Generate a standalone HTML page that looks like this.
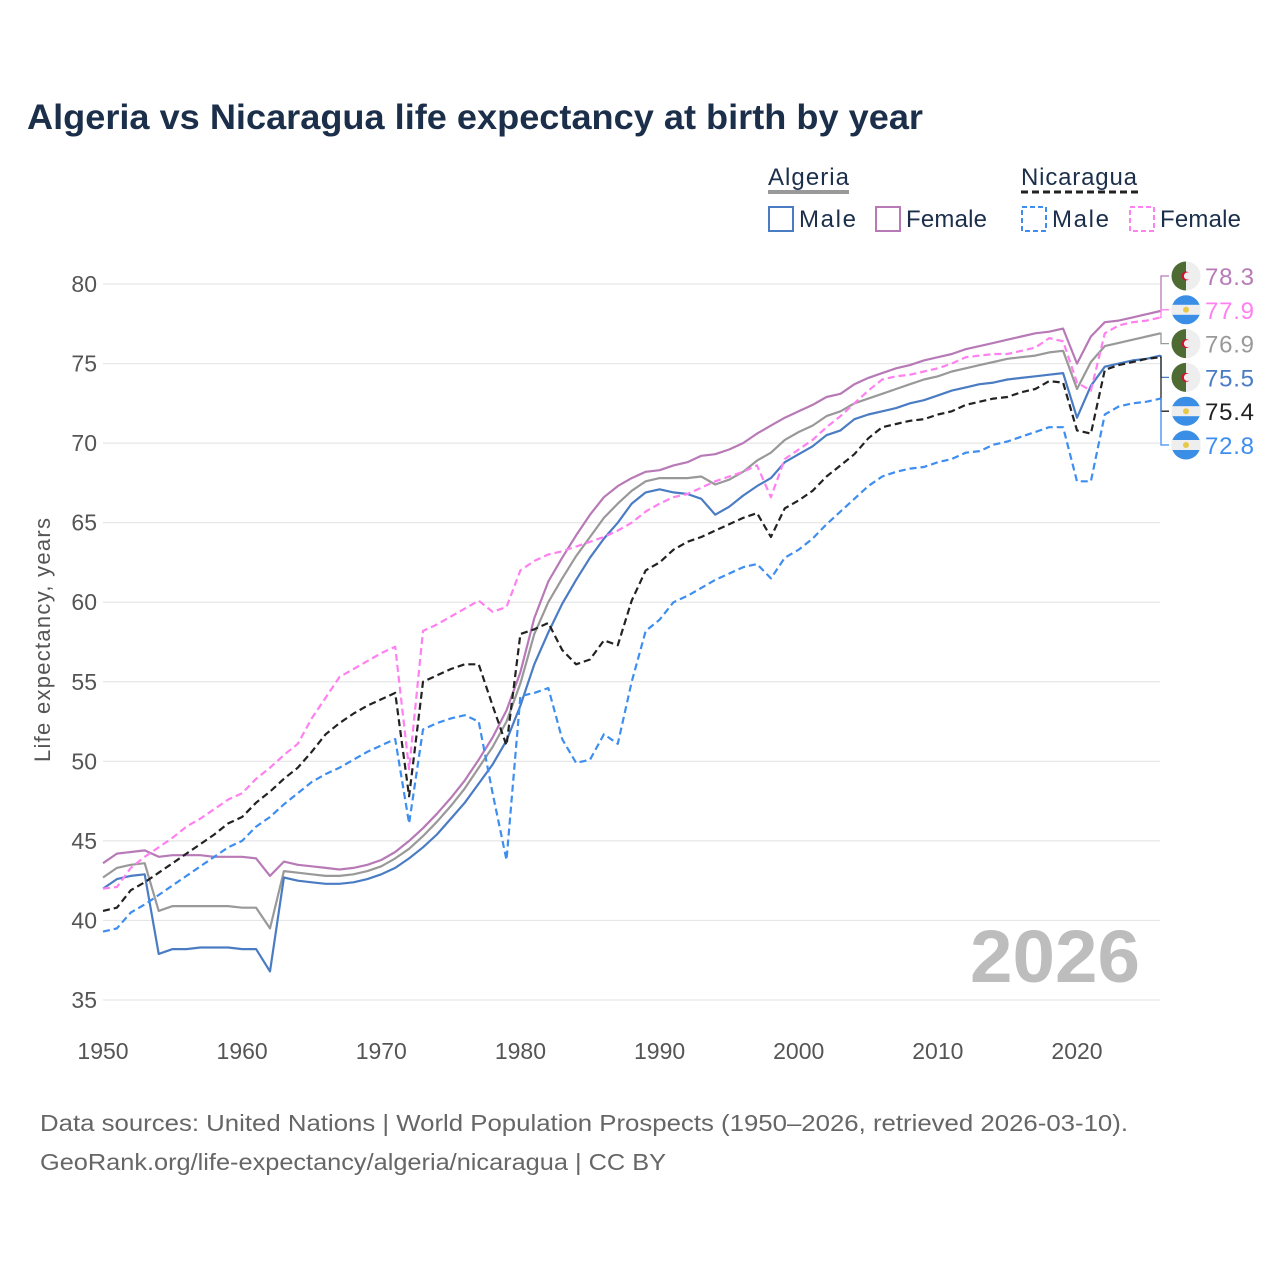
<!DOCTYPE html>
<html><head><meta charset="utf-8"><style>
body{margin:0;background:#fff;font-family:"Liberation Sans",sans-serif;}
svg text{font-family:"Liberation Sans",sans-serif;}
</style></head><body>
<svg id="chart" width="1280" height="1280" xmlns="http://www.w3.org/2000/svg">
<rect width="1280" height="1280" fill="#fff"/>
<text x="27" y="129" font-size="35" font-weight="bold" fill="#1b2f4b" textLength="896" lengthAdjust="spacingAndGlyphs">Algeria vs Nicaragua life expectancy at birth by year</text>
<g>
<text x="768" y="185" font-size="24" fill="#1b2f4b" textLength="81">Algeria</text>
<line x1="768" y1="192" x2="849" y2="192" stroke="#999" stroke-width="4"/>
<text x="1021" y="185" font-size="24" fill="#1b2f4b" textLength="116">Nicaragua</text>
<line x1="1021" y1="192" x2="1138" y2="192" stroke="#222" stroke-width="3" stroke-dasharray="7,4"/>
<g><rect x="769" y="207" width="24" height="24" fill="none" stroke="#4a7cc4" stroke-width="2"/><text x="799" y="227" font-size="24" fill="#1b2f4b" textLength="57">Male</text></g>
<g><rect x="876" y="207" width="24" height="24" fill="none" stroke="#b77ab7" stroke-width="2"/><text x="906" y="227" font-size="24" fill="#1b2f4b" textLength="81">Female</text></g>
<g><rect x="1022" y="207" width="24" height="24" fill="none" stroke="#3d8ef0" stroke-width="2" stroke-dasharray="5,3"/><text x="1052" y="227" font-size="24" fill="#1b2f4b" textLength="57">Male</text></g>
<g><rect x="1130" y="207" width="24" height="24" fill="none" stroke="#ff80f0" stroke-width="2" stroke-dasharray="5,3"/><text x="1160" y="227" font-size="24" fill="#1b2f4b" textLength="81">Female</text></g>
</g>
<g id="grid"></g>
<g id="axes"></g>
<text x="970" y="982" font-size="74" font-weight="bold" fill="#bdbdbd" textLength="170" lengthAdjust="spacingAndGlyphs">2026</text>
<text transform="translate(50,640) rotate(-90)" text-anchor="middle" font-size="22" fill="#555" textLength="244">Life expectancy, years</text>
<g id="series"></g>
<g id="labels"></g>
<text x="40" y="1131" font-size="23" fill="#666" textLength="1088" lengthAdjust="spacingAndGlyphs">Data sources: United Nations | World Population Prospects (1950–2026, retrieved 2026-03-10).</text>
<text x="40" y="1170" font-size="23" fill="#666" textLength="626" lengthAdjust="spacingAndGlyphs">GeoRank.org/life-expectancy/algeria/nicaragua | CC BY</text>
</svg>
<script>
const startYear = 1950;
const yTicks = [35,40,45,50,55,60,65,70,75,80];
const xTicks = [1950,1960,1970,1980,1990,2000,2010,2020];
const algeriaFemale = [43.6,44.2,44.3,44.4,44.0,44.1,44.1,44.1,44.0,44.0,44.0,43.9,42.8,43.7,43.5,43.4,43.3,43.2,43.3,43.5,43.8,44.3,45.0,45.8,46.7,47.7,48.8,50.1,51.5,53.2,55.6,59.0,61.3,62.8,64.2,65.5,66.6,67.3,67.8,68.2,68.3,68.6,68.8,69.2,69.3,69.6,70.0,70.6,71.1,71.6,72.0,72.4,72.9,73.1,73.7,74.1,74.4,74.7,74.9,75.2,75.4,75.6,75.9,76.1,76.3,76.5,76.7,76.9,77.0,77.2,75.0,76.7,77.6,77.7,77.9,78.1,78.3];
const algeriaTotal = [42.7,43.3,43.5,43.6,40.6,40.9,40.9,40.9,40.9,40.9,40.8,40.8,39.5,43.1,43.0,42.9,42.8,42.8,42.9,43.1,43.4,43.9,44.5,45.3,46.2,47.2,48.3,49.6,50.9,52.5,54.9,58.0,60.0,61.5,62.9,64.1,65.3,66.2,67.0,67.6,67.8,67.8,67.8,67.9,67.4,67.7,68.2,68.9,69.4,70.2,70.7,71.1,71.7,72.0,72.5,72.8,73.1,73.4,73.7,74.0,74.2,74.5,74.7,74.9,75.1,75.3,75.4,75.5,75.7,75.8,73.4,75.1,76.1,76.3,76.5,76.7,76.9];
const algeriaMale = [42.0,42.6,42.8,42.9,37.9,38.2,38.2,38.3,38.3,38.3,38.2,38.2,36.8,42.7,42.5,42.4,42.3,42.3,42.4,42.6,42.9,43.3,43.9,44.6,45.4,46.4,47.4,48.6,49.8,51.3,53.5,56.1,58.1,59.9,61.4,62.8,64.0,65.0,66.2,66.9,67.1,66.9,66.8,66.5,65.5,66.0,66.7,67.3,67.8,68.8,69.3,69.8,70.5,70.8,71.5,71.8,72.0,72.2,72.5,72.7,73.0,73.3,73.5,73.7,73.8,74.0,74.1,74.2,74.3,74.4,71.6,73.6,74.8,75.0,75.2,75.3,75.5];
const nicaraguaTotal = [40.6,40.8,41.9,42.4,43.0,43.6,44.2,44.8,45.4,46.1,46.5,47.4,48.1,48.9,49.6,50.6,51.7,52.4,53.0,53.5,53.9,54.3,47.8,55.0,55.4,55.8,56.1,56.1,53.5,51.0,58.0,58.3,58.7,57.0,56.1,56.4,57.6,57.3,60.1,62.0,62.5,63.3,63.8,64.1,64.5,64.9,65.3,65.6,64.1,65.9,66.4,67.0,67.9,68.6,69.3,70.3,71.0,71.2,71.4,71.5,71.8,72.0,72.4,72.6,72.8,72.9,73.2,73.4,73.9,73.8,70.8,70.6,74.6,74.9,75.1,75.3,75.4];
const nicaraguaMale = [39.3,39.5,40.5,41.0,41.6,42.2,42.8,43.4,44.0,44.6,45.0,45.9,46.5,47.3,48.0,48.7,49.2,49.6,50.1,50.6,51.0,51.4,46.1,52.0,52.4,52.7,52.9,52.5,48.0,43.8,54.1,54.3,54.6,51.4,49.9,50.1,51.7,51.1,55.0,58.2,58.9,60.0,60.4,60.9,61.4,61.8,62.2,62.4,61.5,62.8,63.3,64.0,64.9,65.7,66.5,67.3,67.9,68.2,68.4,68.5,68.8,69.0,69.4,69.5,69.9,70.1,70.4,70.7,71.0,71.0,67.6,67.6,71.8,72.3,72.5,72.6,72.8];
const nicaraguaFemale = [42.0,42.1,43.3,44.0,44.6,45.2,45.9,46.4,47.0,47.6,48.0,48.9,49.6,50.4,51.1,52.7,54.0,55.3,55.8,56.3,56.8,57.2,49.5,58.2,58.6,59.1,59.6,60.1,59.4,59.7,62.0,62.6,63.0,63.2,63.5,63.8,64.1,64.5,65.0,65.7,66.2,66.6,66.8,67.2,67.6,67.9,68.2,68.6,66.6,69.0,69.6,70.2,71.0,71.7,72.5,73.3,74.0,74.2,74.3,74.5,74.7,75.0,75.4,75.5,75.6,75.6,75.8,76.0,76.6,76.4,73.8,73.3,76.9,77.4,77.6,77.7,77.9];

const NS = "http://www.w3.org/2000/svg";
const X0 = 103, XPER = 974/70, Y80 = 284, YPER = 716/45, XEND = 1160;
function xs(year){return X0 + (year-1950)*XPER;}
function ys(v){return Y80 + (80-v)*YPER;}
function mk(tag, attrs, parent){const e=document.createElementNS(NS,tag);for(const k in attrs)e.setAttribute(k,attrs[k]);parent.appendChild(e);return e;}

const grid=document.getElementById('grid'), axes=document.getElementById('axes');
yTicks.forEach(t=>{
  const l=mk('line',{x1:X0,x2:XEND,y1:ys(t),y2:ys(t),stroke:'#e6e6e6','stroke-width':1.2},grid);
  
  
  const tx=mk('text',{x:97,y:ys(t)+8,'text-anchor':'end','font-size':23,fill:'#555'},axes);
  tx.textContent=t;
  
  
});
xTicks.forEach(t=>{
  const tx=mk('text',{x:xs(t),y:1059,'text-anchor':'middle','font-size':23,fill:'#555'},axes);
  tx.textContent=t;
  
  
});

const seriesDefs=[
 {name:'algeria-female',data:algeriaFemale,color:'#b77ab7',dash:null},
 {name:'algeria-total',data:algeriaTotal,color:'#999',dash:null},
 {name:'algeria-male',data:algeriaMale,color:'#4a7cc4',dash:null},
 {name:'nicaragua-female',data:nicaraguaFemale,color:'#ff80f0',dash:'7,4'},
 {name:'nicaragua-male',data:nicaraguaMale,color:'#3d8ef0',dash:'7,4'},
 {name:'nicaragua-total',data:nicaraguaTotal,color:'#222',dash:'7,4'}
];
const sg=document.getElementById('series');
seriesDefs.forEach(s=>{
  const pts=s.data.map((v,i)=>xs(startYear+i).toFixed(1)+','+ys(v).toFixed(1)).join(' ');
  const a={points:pts,fill:'none',stroke:s.color,'stroke-width':2.2,'stroke-linejoin':'round'};
  if(s.dash)a['stroke-dasharray']=s.dash;
  const p=mk('polyline',a,sg);
  
  
});

const lg=document.getElementById('labels');
const ends=[
 {name:'algeria-female',v:algeriaFemale[algeriaFemale.length-1],color:'#b77ab7',flag:'dz'},
 {name:'nicaragua-female',v:nicaraguaFemale[nicaraguaFemale.length-1],color:'#ff80f0',flag:'ni'},
 {name:'algeria-total',v:algeriaTotal[algeriaTotal.length-1],color:'#999',flag:'dz'},
 {name:'algeria-male',v:algeriaMale[algeriaMale.length-1],color:'#4a7cc4',flag:'dz'},
 {name:'nicaragua-total',v:nicaraguaTotal[nicaraguaTotal.length-1],color:'#222',flag:'ni'},
 {name:'nicaragua-male',v:nicaraguaMale[nicaraguaMale.length-1],color:'#3d8ef0',flag:'ni'}
].sort((a,b)=>b.v-a.v);
ends.forEach((e,i)=>{
  const ly=276+i*33.8, ey=ys(e.v);
  const c=mk('polyline',{points:`${XEND},${ey} ${XEND+1},${ey} ${XEND+1},${ly} ${XEND+9},${ly}`,fill:'none',stroke:e.color,'stroke-width':1.3},lg);
  
  
  const g=mk('g',{},lg);
  
  
  const cx=1186;
  if(e.flag==='dz'){
    mk('circle',{cx:cx,cy:ly,r:14.5,fill:'#eee'},g);
    mk('path',{d:`M${cx},${ly-14.5} A14.5,14.5 0 0 0 ${cx},${ly+14.5} Z`,fill:'#4d6b33'},g);
    mk('circle',{cx:cx,cy:ly,r:4.5,fill:'#d21034'},g);
    mk('circle',{cx:cx+1.5,cy:ly,r:3.6,fill:'#eee'},g);
  } else {
    mk('circle',{cx:cx,cy:ly,r:14.5,fill:'#3a8ee6'},g);
    mk('rect',{x:cx-14.5,y:ly-5,width:29,height:10,fill:'#eee'},g);
    mk('circle',{cx:cx,cy:ly,r:3,fill:'#e8c84a'},g);
  }
  const t=mk('text',{x:1205,y:ly+9,'font-size':24,fill:e.color,textLength:49},lg);
  t.textContent=e.v.toFixed(1);
  
  
});
</script>
</body></html>
